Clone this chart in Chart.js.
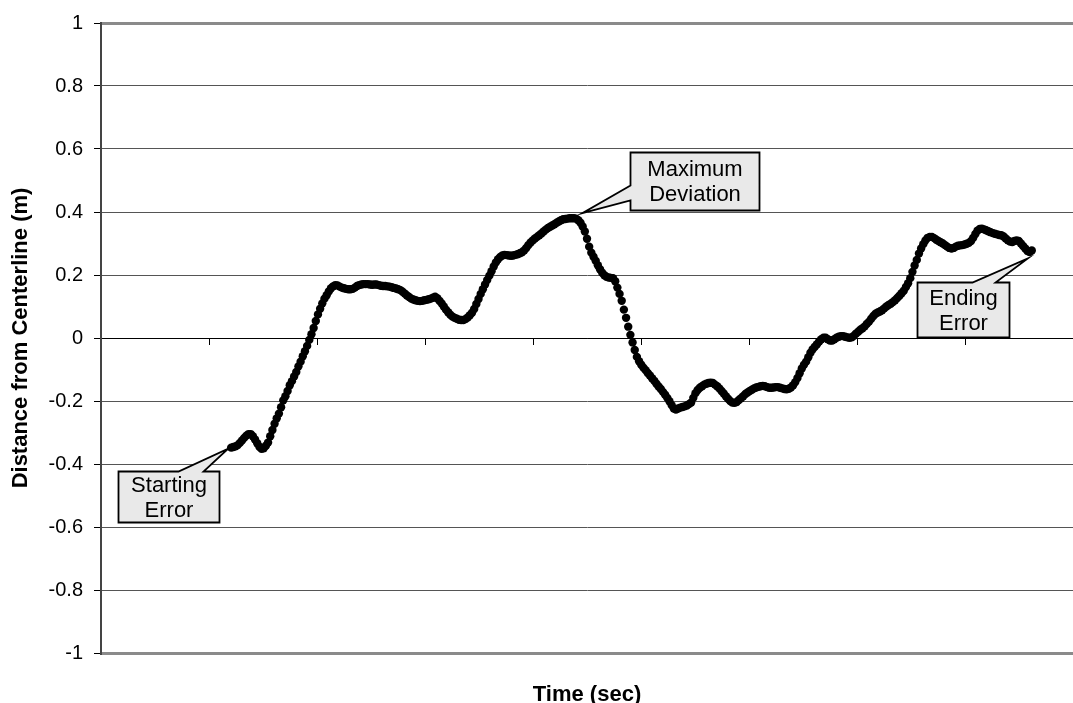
<!DOCTYPE html>
<html>
<head>
<meta charset="utf-8">
<script src="https://cdn.jsdelivr.net/npm/chart.js@4/dist/chart.umd.min.js"></script>
<style>
  html, body { margin: 0; padding: 0; background: #fff; }
  #wrap { width: 1073px; height: 703px; }
</style>
</head>
<body>
<div id="wrap"><canvas id="c" width="1073" height="703"></canvas></div>
<script>
// ---- data ----
const xTitle = 'Time (sec)';
const yTitle = 'Distance from Centerline (m)';
const firstSample = 60;      // sample index of first recorded point
const sampleAxisMax = 448;   // sample index at right edge of plot
const sampleTickStep = 50;
const distance = [
-0.348,-0.346,-0.344,-0.340,-0.333,-0.325,-0.317,-0.310,-0.305,-0.305,
-0.312,-0.322,-0.334,-0.345,-0.352,-0.350,-0.342,-0.332,-0.312,-0.292,
-0.272,-0.255,-0.240,-0.220,-0.198,-0.185,-0.168,-0.150,-0.137,-0.122,
-0.108,-0.090,-0.075,-0.058,-0.042,-0.025,-0.006,0.012,0.032,0.054,
0.075,0.093,0.110,0.125,0.136,0.148,0.158,0.164,0.168,0.167,
0.163,0.160,0.158,0.156,0.155,0.155,0.156,0.160,0.165,0.168,
0.170,0.171,0.171,0.171,0.170,0.169,0.170,0.170,0.168,0.166,
0.165,0.165,0.164,0.163,0.161,0.159,0.157,0.155,0.152,0.147,
0.141,0.135,0.130,0.125,0.122,0.120,0.118,0.117,0.118,0.120,
0.121,0.123,0.125,0.128,0.131,0.126,0.118,0.110,0.100,0.090,
0.082,0.074,0.068,0.064,0.061,0.058,0.057,0.057,0.060,0.065,
0.072,0.080,0.092,0.108,0.124,0.140,0.155,0.170,0.184,0.198,
0.212,0.227,0.240,0.250,0.257,0.262,0.264,0.263,0.262,0.261,
0.262,0.264,0.266,0.269,0.272,0.278,0.286,0.295,0.303,0.310,
0.316,0.321,0.326,0.332,0.338,0.344,0.349,0.353,0.357,0.361,
0.366,0.370,0.374,0.377,0.378,0.379,0.380,0.380,0.380,0.379,
0.374,0.366,0.354,0.338,0.315,0.290,0.271,0.258,0.245,0.231,
0.218,0.207,0.199,0.194,0.192,0.191,0.190,0.180,0.160,0.140,
0.118,0.090,0.064,0.036,0.010,-0.014,-0.038,-0.060,-0.074,-0.085,
-0.094,-0.102,-0.111,-0.119,-0.128,-0.136,-0.145,-0.154,-0.162,-0.171,
-0.180,-0.190,-0.201,-0.213,-0.224,-0.227,-0.224,-0.221,-0.219,-0.217,
-0.214,-0.210,-0.205,-0.190,-0.175,-0.165,-0.158,-0.153,-0.148,-0.145,
-0.143,-0.142,-0.143,-0.148,-0.153,-0.160,-0.168,-0.176,-0.185,-0.193,
-0.200,-0.205,-0.206,-0.203,-0.197,-0.191,-0.185,-0.178,-0.173,-0.168,
-0.164,-0.160,-0.157,-0.155,-0.153,-0.152,-0.153,-0.156,-0.158,-0.158,
-0.157,-0.156,-0.156,-0.158,-0.160,-0.162,-0.163,-0.161,-0.157,-0.150,
-0.140,-0.127,-0.112,-0.097,-0.085,-0.075,-0.061,-0.047,-0.036,-0.028,
-0.020,-0.011,-0.004,0.001,0.001,-0.004,-0.008,-0.008,-0.004,0.001,
0.004,0.006,0.006,0.004,0.002,0.001,0.002,0.007,0.014,0.020,
0.026,0.031,0.037,0.045,0.052,0.061,0.070,0.077,0.081,0.084,
0.088,0.094,0.100,0.105,0.109,0.114,0.120,0.127,0.134,0.142,
0.150,0.162,0.174,0.190,0.210,0.230,0.248,0.268,0.284,0.298,
0.310,0.318,0.321,0.321,0.317,0.312,0.308,0.304,0.300,0.295,
0.290,0.286,0.284,0.286,0.290,0.293,0.294,0.295,0.297,0.299,
0.302,0.308,0.318,0.330,0.341,0.346,0.347,0.345,0.342,0.339,
0.336,0.333,0.331,0.329,0.327,0.326,0.322,0.316,0.310,0.306,
0.305,0.308,0.310,0.308,0.300,0.292,0.284,0.276,0.273,0.278
];
const calloutTexts = [['Starting', 'Error'], ['Maximum', 'Deviation'], ['Ending', 'Error']];
const calloutSamples = [60, 220, 429];

// ---- layout of callouts (pixels relative to the pointed-at point) ----
const calloutLayout = [
  { box: [-113, 23, 101, 51], edge: 'top',  w1: 60, w2: 85, tip: [-3, 1] },
  { box: [52, -68, 129, 58],  edge: 'left', w1: 33, w2: 48, tip: [4, -7] },
  { box: [-115, 32, 92, 55],  edge: 'top',  w1: 55, w2: 78, tip: [-4, 8] }
];

const points = distance.map((v, i) => ({ x: firstSample + i, y: v }));

const FONT = "'Liberation Sans', Arial, Helvetica, sans-serif";
Chart.defaults.font.family = FONT;
Chart.defaults.color = '#000';

const calloutPlugin = {
  id: 'callouts',
  afterDatasetsDraw(chart) {
    const ctx = chart.ctx;
    const xs = chart.scales.x, ys = chart.scales.y;
    calloutSamples.forEach((s, k) => {
      const v = distance[s - firstSample];
      const px = xs.getPixelForValue(s), py = ys.getPixelForValue(v);
      const L = calloutLayout[k];
      const bx = Math.round(px + L.box[0]) + 0.5, by = Math.round(py + L.box[1]) + 0.5;
      const bw = L.box[2], bh = L.box[3];
      const tx = px + L.tip[0], ty = py + L.tip[1];
      ctx.save();
      ctx.beginPath();
      if (L.edge === 'top') {
        ctx.moveTo(bx, by);
        ctx.lineTo(bx + L.w1, by);
        ctx.lineTo(tx, ty);
        ctx.lineTo(bx + L.w2, by);
        ctx.lineTo(bx + bw, by);
        ctx.lineTo(bx + bw, by + bh);
        ctx.lineTo(bx, by + bh);
        ctx.closePath();
      } else {
        ctx.moveTo(bx, by);
        ctx.lineTo(bx + bw, by);
        ctx.lineTo(bx + bw, by + bh);
        ctx.lineTo(bx, by + bh);
        ctx.lineTo(bx, by + L.w2);
        ctx.lineTo(tx, ty);
        ctx.lineTo(bx, by + L.w1);
        ctx.closePath();
      }
      ctx.fillStyle = '#e9e9e9';
      ctx.fill();
      ctx.lineWidth = 1.8;
      ctx.strokeStyle = '#000';
      ctx.lineJoin = 'miter';
      ctx.stroke();
      ctx.fillStyle = '#000';
      ctx.font = '22px ' + FONT;
      ctx.textAlign = 'center';
      ctx.textBaseline = 'middle';
      const lines = calloutTexts[k];
      const lh = 25;
      const cy = by + bh / 2 + 1;
      lines.forEach((t, j) => {
        ctx.fillText(t, bx + bw / 2, cy + (j - (lines.length - 1) / 2) * lh);
      });
      ctx.restore();
    });
  }
};

new Chart(document.getElementById('c'), {
  type: 'scatter',
  data: {
    datasets: [{
      data: points,
      showLine: false,
      pointRadius: 4.2,
      pointHoverRadius: 4.2,
      pointBackgroundColor: '#000',
      pointBorderWidth: 0
    }]
  },
  options: {
    responsive: false,
    animation: false,
    devicePixelRatio: 1,
    layout: { autoPadding: false, padding: { left: 0, right: 0, top: 19, bottom: 0 } },
    plugins: { legend: { display: false }, tooltip: { enabled: false } },
    scales: {
      x: {
        type: 'linear',
        position: { y: 0 },
        min: 0,
        max: sampleAxisMax,
        ticks: { display: false, stepSize: sampleTickStep, includeBounds: false, autoSkip: false },
        grid: { drawOnChartArea: false, drawTicks: true, tickLength: 6, tickColor: '#000', tickWidth: 1 },
        border: { display: true, color: '#000', width: 1 }
      },
      x2: {
        type: 'linear',
        position: 'bottom',
        axis: 'x',
        min: 0, max: 1,
        ticks: { display: false },
        grid: { display: false, drawTicks: false },
        border: { display: false },
        title: { display: true, text: xTitle, font: { size: 22, weight: 'bold', lineHeight: 1 }, color: '#000', padding: { top: 31, bottom: -3 } }
      },
      y: {
        type: 'linear',
        position: 'left',
        min: -1,
        max: 1,
        afterFit(scale) { scale.width = 101; },
        ticks: {
          stepSize: 0.2,
          padding: 11,
          color: '#000',
          font: { size: 20 },
          callback: (v) => String(Math.round(v * 10) / 10)
        },
        grid: {
          drawTicks: true,
          tickLength: 7,
          tickColor: '#000',
          tickWidth: 1,
          color: (c) => {
            const v = Math.round((c.tick ? c.tick.value : 0) * 10) / 10;
            if (v === 1 || v === -1) return '#8a8a8a';
            if (v === 0) return '#000';
            return '#555';
          },
          lineWidth: (c) => {
            const v = Math.round((c.tick ? c.tick.value : 0) * 10) / 10;
            return (v === 1 || v === -1) ? 3 : 1;
          }
        },
        border: { display: true, color: '#444', width: 2 },
        title: { display: true, text: yTitle, font: { size: 22, weight: 'bold' }, color: '#000', padding: { top: 8, bottom: 0 } }
      }
    }
  },
  plugins: [calloutPlugin]
});
</script>
</body>
</html>
